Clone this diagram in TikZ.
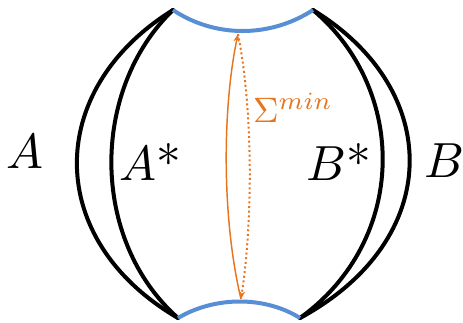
\documentclass[tikz,border=0pt]{standalone}
\usetikzlibrary{arrows.meta}
\definecolor{cblue}{RGB}{88,142,212}
\definecolor{corange}{RGB}{232,117,30}
\begin{document}
\begin{tikzpicture}[x=0.75pt,y=-0.75pt,
  wall/.style={line width=3pt,black,line cap=round},
  surf/.style={line width=3pt,cblue},
  geo/.style={line width=1.1pt,corange},
  lab/.style={scale=3.7,inner sep=0pt}]
\useasboundingbox (0,0) rectangle (463,322);
\coordinate (tl) at (173,10);
\coordinate (tr) at (313,10);
\coordinate (bl) at (178,318);
\coordinate (br) at (300,318);
\coordinate (gt) at (238,34);
\coordinate (gb) at (241,299);
% walls
\draw[wall] (tl) .. controls (44,90) and (44,240) .. (bl);
\draw[wall] (tl) .. controls (90,90) and (90,240) .. (bl);
\draw[wall] (tr) .. controls (444,90) and (444,240) .. (br);
\draw[wall] (tr) .. controls (408,90) and (408,240) .. (br);
% minimal surfaces
\draw[surf] (tl) .. controls (215,38) and (270,38) .. (tr);
\draw[surf] (bl) .. controls (215,296) and (265,296) .. (br);
% geodesics
\draw[geo,-{Stealth[length=6pt,width=4.5pt]}] (gb) .. controls (222,220) and (222,110) .. (gt);
\draw[geo,line width=1.5pt,dotted,-{Stealth[length=6pt,width=4.5pt]}] (gt) .. controls (253,110) and (253,220) .. (gb);
% labels
\node[lab] (A) at (25,152) {$A$};
\node[lab] (As) at (150,162) {$A$*};
\node[lab] (Bs) at (339,162) {$B$*};
\node[lab] (B) at (444,161) {$B$};
\node[corange,scale=2.65,inner sep=0pt] (S) at (293,108) {$\Sigma^{min}$};
\end{tikzpicture}
\end{document}
